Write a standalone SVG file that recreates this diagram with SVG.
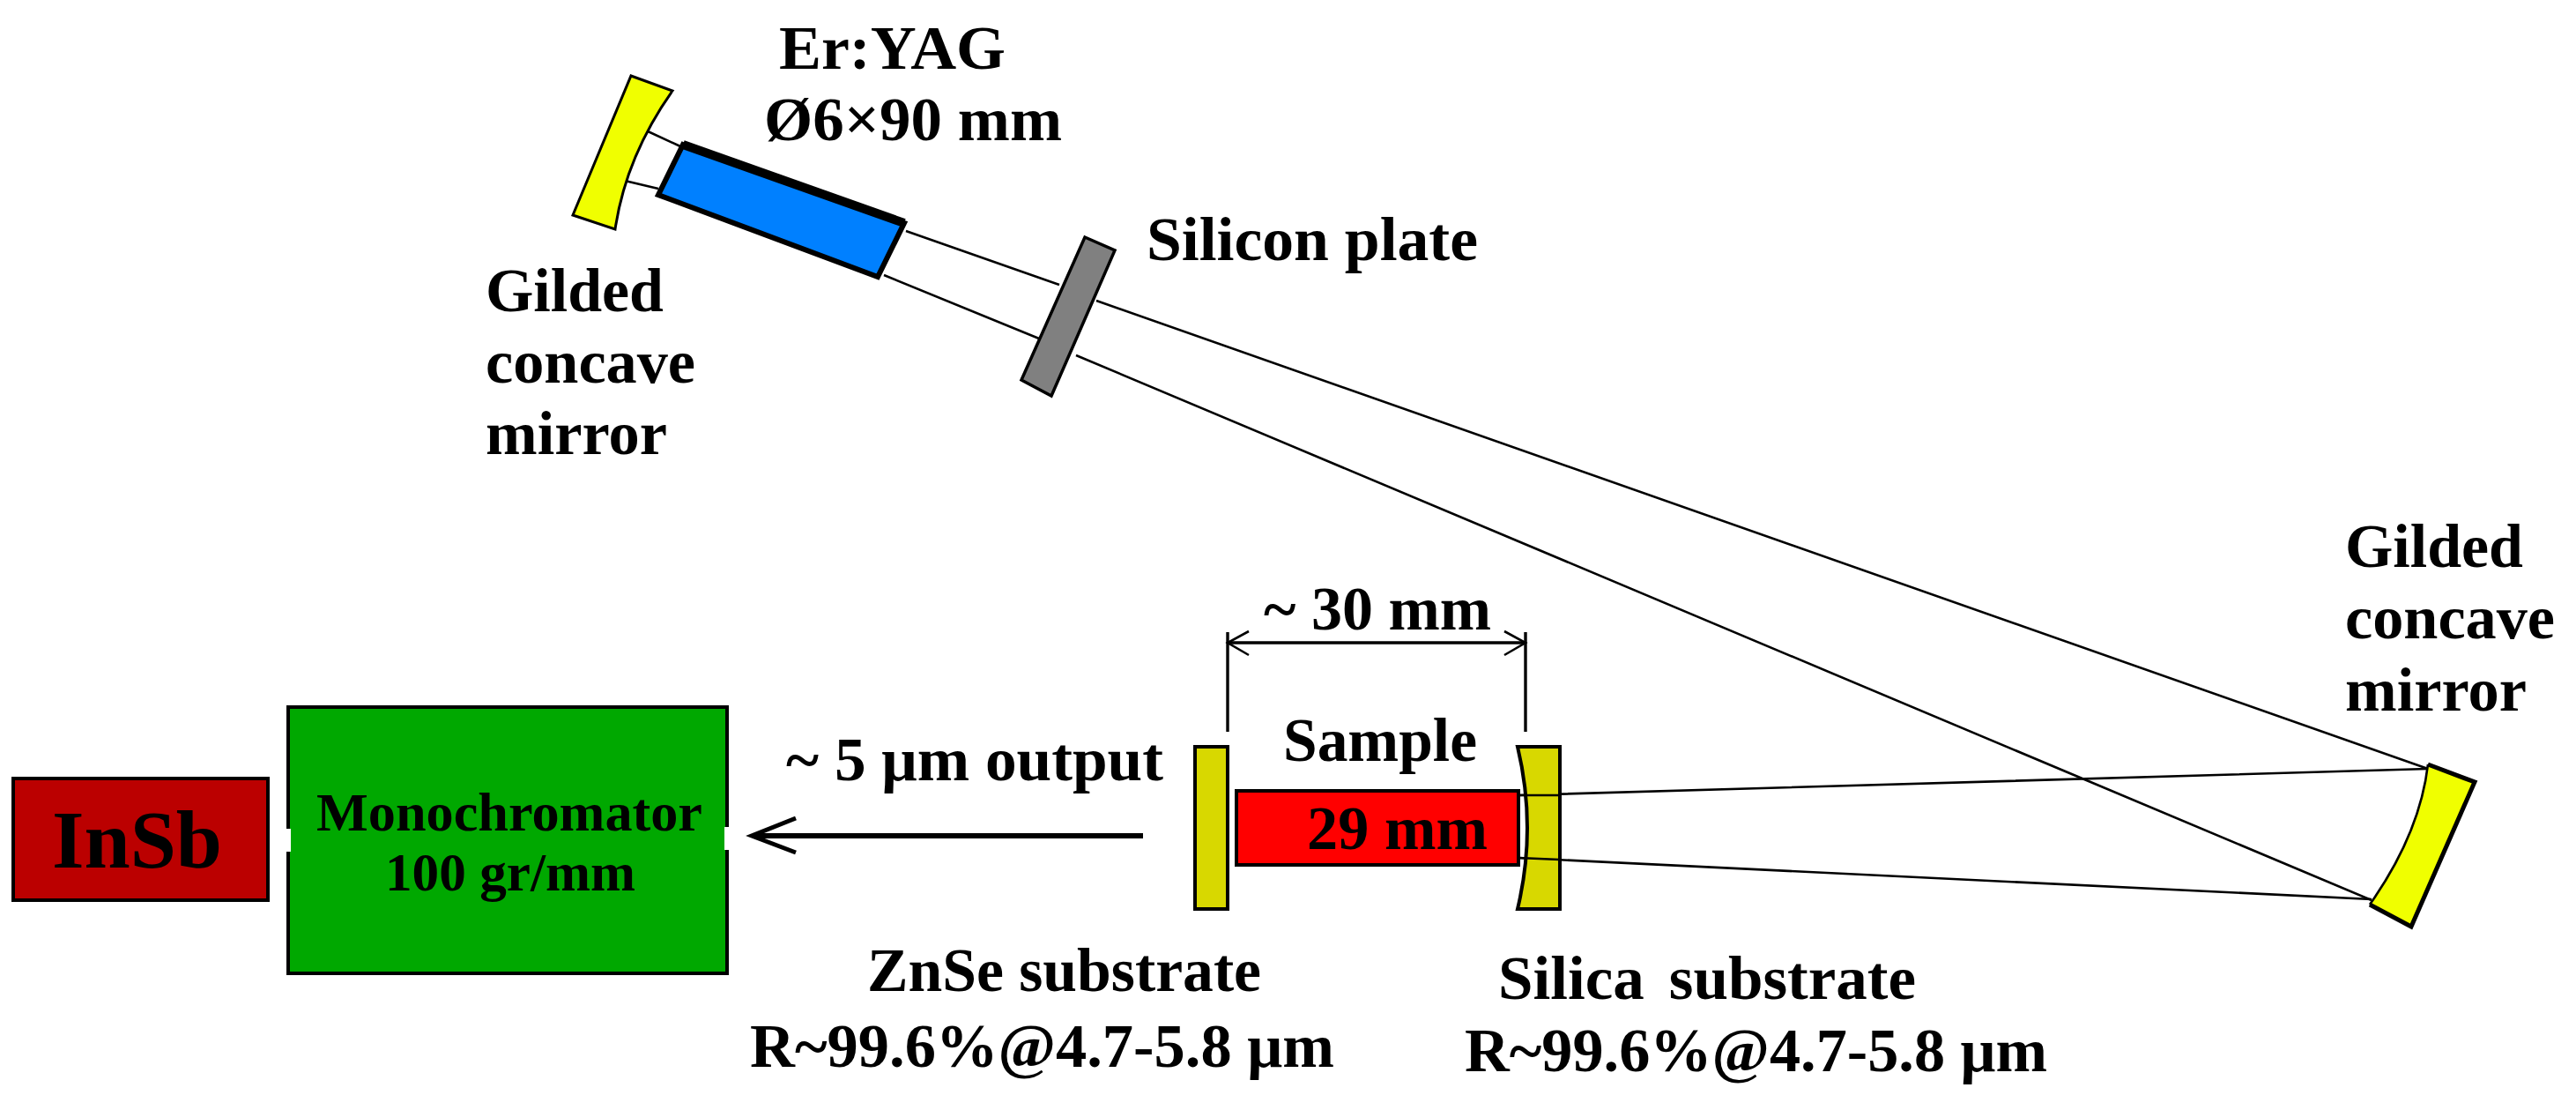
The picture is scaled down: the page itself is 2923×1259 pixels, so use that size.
<svg xmlns="http://www.w3.org/2000/svg" width="2923" height="1259" viewBox="0 0 2923 1259">
<style>
text{font-family:"Liberation Serif","Times New Roman",serif;font-weight:bold;fill:#000;font-size:70px}
.ray{fill:none;stroke:#000;stroke-width:2.6}
.dim{fill:none;stroke:#000;stroke-width:3.4}
.mir{fill:#f0ff00;stroke:#000;stroke-width:3;stroke-linejoin:miter}
.sub{fill:#d8d800;stroke:#000;stroke-width:4}
</style>
<rect width="2923" height="1259" fill="#fff"/>
<g id="connectors">
<path class="ray" d="M733 148L772 166M709 205L747 214"/>
<path class="ray" d="M1028 262L1202 323M1244 341L2755 872"/>
<path class="ray" d="M1003 312L1179 384M1221 403L2691 1021"/>
<path class="ray" d="M1723 902L2755 872M1723 973L2691 1020"/>
<path class="dim" d="M1393 717V830M1731 717V830M1393 729H1731"/>
<path class="ray" d="M1417 716L1393 729L1417 743M1707 716L1731 729L1707 743"/>
<path fill="none" stroke="#000" stroke-width="6" d="M1297 948H854"/>
<path fill="none" stroke="#000" stroke-width="5" d="M903 928L853 948L903 967"/>
</g>
<g id="mirror-top">
<path class="mir" d="M716 86L763 103Q710 178 698 260L650 244Z"/>
<text x="551" y="353" textLength="202" lengthAdjust="spacingAndGlyphs">Gilded</text>
<text x="551" y="434" textLength="238" lengthAdjust="spacingAndGlyphs">concave</text>
<text x="551" y="515" textLength="206" lengthAdjust="spacingAndGlyphs">mirror</text>
</g>
<g id="crystal">
<path d="M775 164L1026 253L996 314L747 221Z" fill="#0080ff" stroke="#000" stroke-width="6"/>
<path d="M775 164L1026 253" fill="none" stroke="#000" stroke-width="10"/>
<text x="884" y="78" textLength="257" lengthAdjust="spacingAndGlyphs">Er:YAG</text>
<text x="867" y="159" textLength="338" lengthAdjust="spacingAndGlyphs">Ø6×90 mm</text>
</g>
<g id="silicon-plate">
<path d="M1231 269L1265 284L1193 449L1159 431Z" fill="#808080" stroke="#000" stroke-width="3.5"/>
<text x="1301" y="295" textLength="376" lengthAdjust="spacingAndGlyphs">Silicon plate</text>
</g>
<g id="mirror-right">
<path d="M2755 867L2808 887L2736 1051L2689 1026Q2746 945 2755 867Z" fill="#f0ff00"/>
<path d="M2755 867Q2746 945 2689 1026" fill="none" stroke="#000" stroke-width="2.6"/>
<path d="M2755 867L2808 887L2736 1051L2689 1026" fill="none" stroke="#000" stroke-width="5"/>
<text x="2661" y="643" textLength="202" lengthAdjust="spacingAndGlyphs">Gilded</text>
<text x="2661" y="724" textLength="238" lengthAdjust="spacingAndGlyphs">concave</text>
<text x="2661" y="806" textLength="206" lengthAdjust="spacingAndGlyphs">mirror</text>
</g>
<g id="insb">
<rect x="15" y="883" width="289" height="138" fill="#bb0000" stroke="#000" stroke-width="4"/>
<text x="59" y="984" style="font-size:94px" textLength="193" lengthAdjust="spacingAndGlyphs">InSb</text>
</g>
<g id="monochromator">
<rect x="327" y="802" width="498" height="302" fill="#00a800" stroke="#000" stroke-width="4"/>
<rect x="324" y="940" width="6" height="26" fill="#fff"/>
<rect x="822" y="938" width="6" height="26" fill="#fff"/>
<text x="359" y="942" style="font-size:62px" textLength="438" lengthAdjust="spacingAndGlyphs">Monochromator</text>
<text x="437" y="1010" style="font-size:62px" textLength="284" lengthAdjust="spacingAndGlyphs">100 gr/mm</text>
</g>
<g id="output-label">
<text x="892" y="885" textLength="428" lengthAdjust="spacingAndGlyphs">~ 5 μm output</text>
</g>
<g id="znse-substrate">
<rect class="sub" x="1356" y="847" width="37" height="184"/>
<text x="984" y="1124" textLength="447" lengthAdjust="spacingAndGlyphs">ZnSe substrate</text>
<text x="851" y="1210" textLength="663" lengthAdjust="spacingAndGlyphs">R~99.6%@4.7-5.8 μm</text>
</g>
<g id="sample">
<rect x="1403" y="897" width="320" height="84" fill="#ff0000" stroke="#000" stroke-width="4"/>
<text x="1456" y="863" textLength="220" lengthAdjust="spacingAndGlyphs">Sample</text>
<text x="1483" y="963" textLength="205" lengthAdjust="spacingAndGlyphs">29 mm</text>
</g>
<g id="silica-substrate">
<path class="sub" d="M1722 847H1770V1031H1722Q1744 939 1722 847Z"/>
<path class="ray" d="M1723 902H1770M1723 973L1770 975"/>
<text x="1700" y="1133" style="word-spacing:10px" textLength="474" lengthAdjust="spacingAndGlyphs">Silica substrate</text>
<text x="1662" y="1215" textLength="661" lengthAdjust="spacingAndGlyphs">R~99.6%@4.7-5.8 μm</text>
</g>
<g id="dimension-label">
<text x="1434" y="714" textLength="258" lengthAdjust="spacingAndGlyphs">~ 30 mm</text>
</g>
</svg>
